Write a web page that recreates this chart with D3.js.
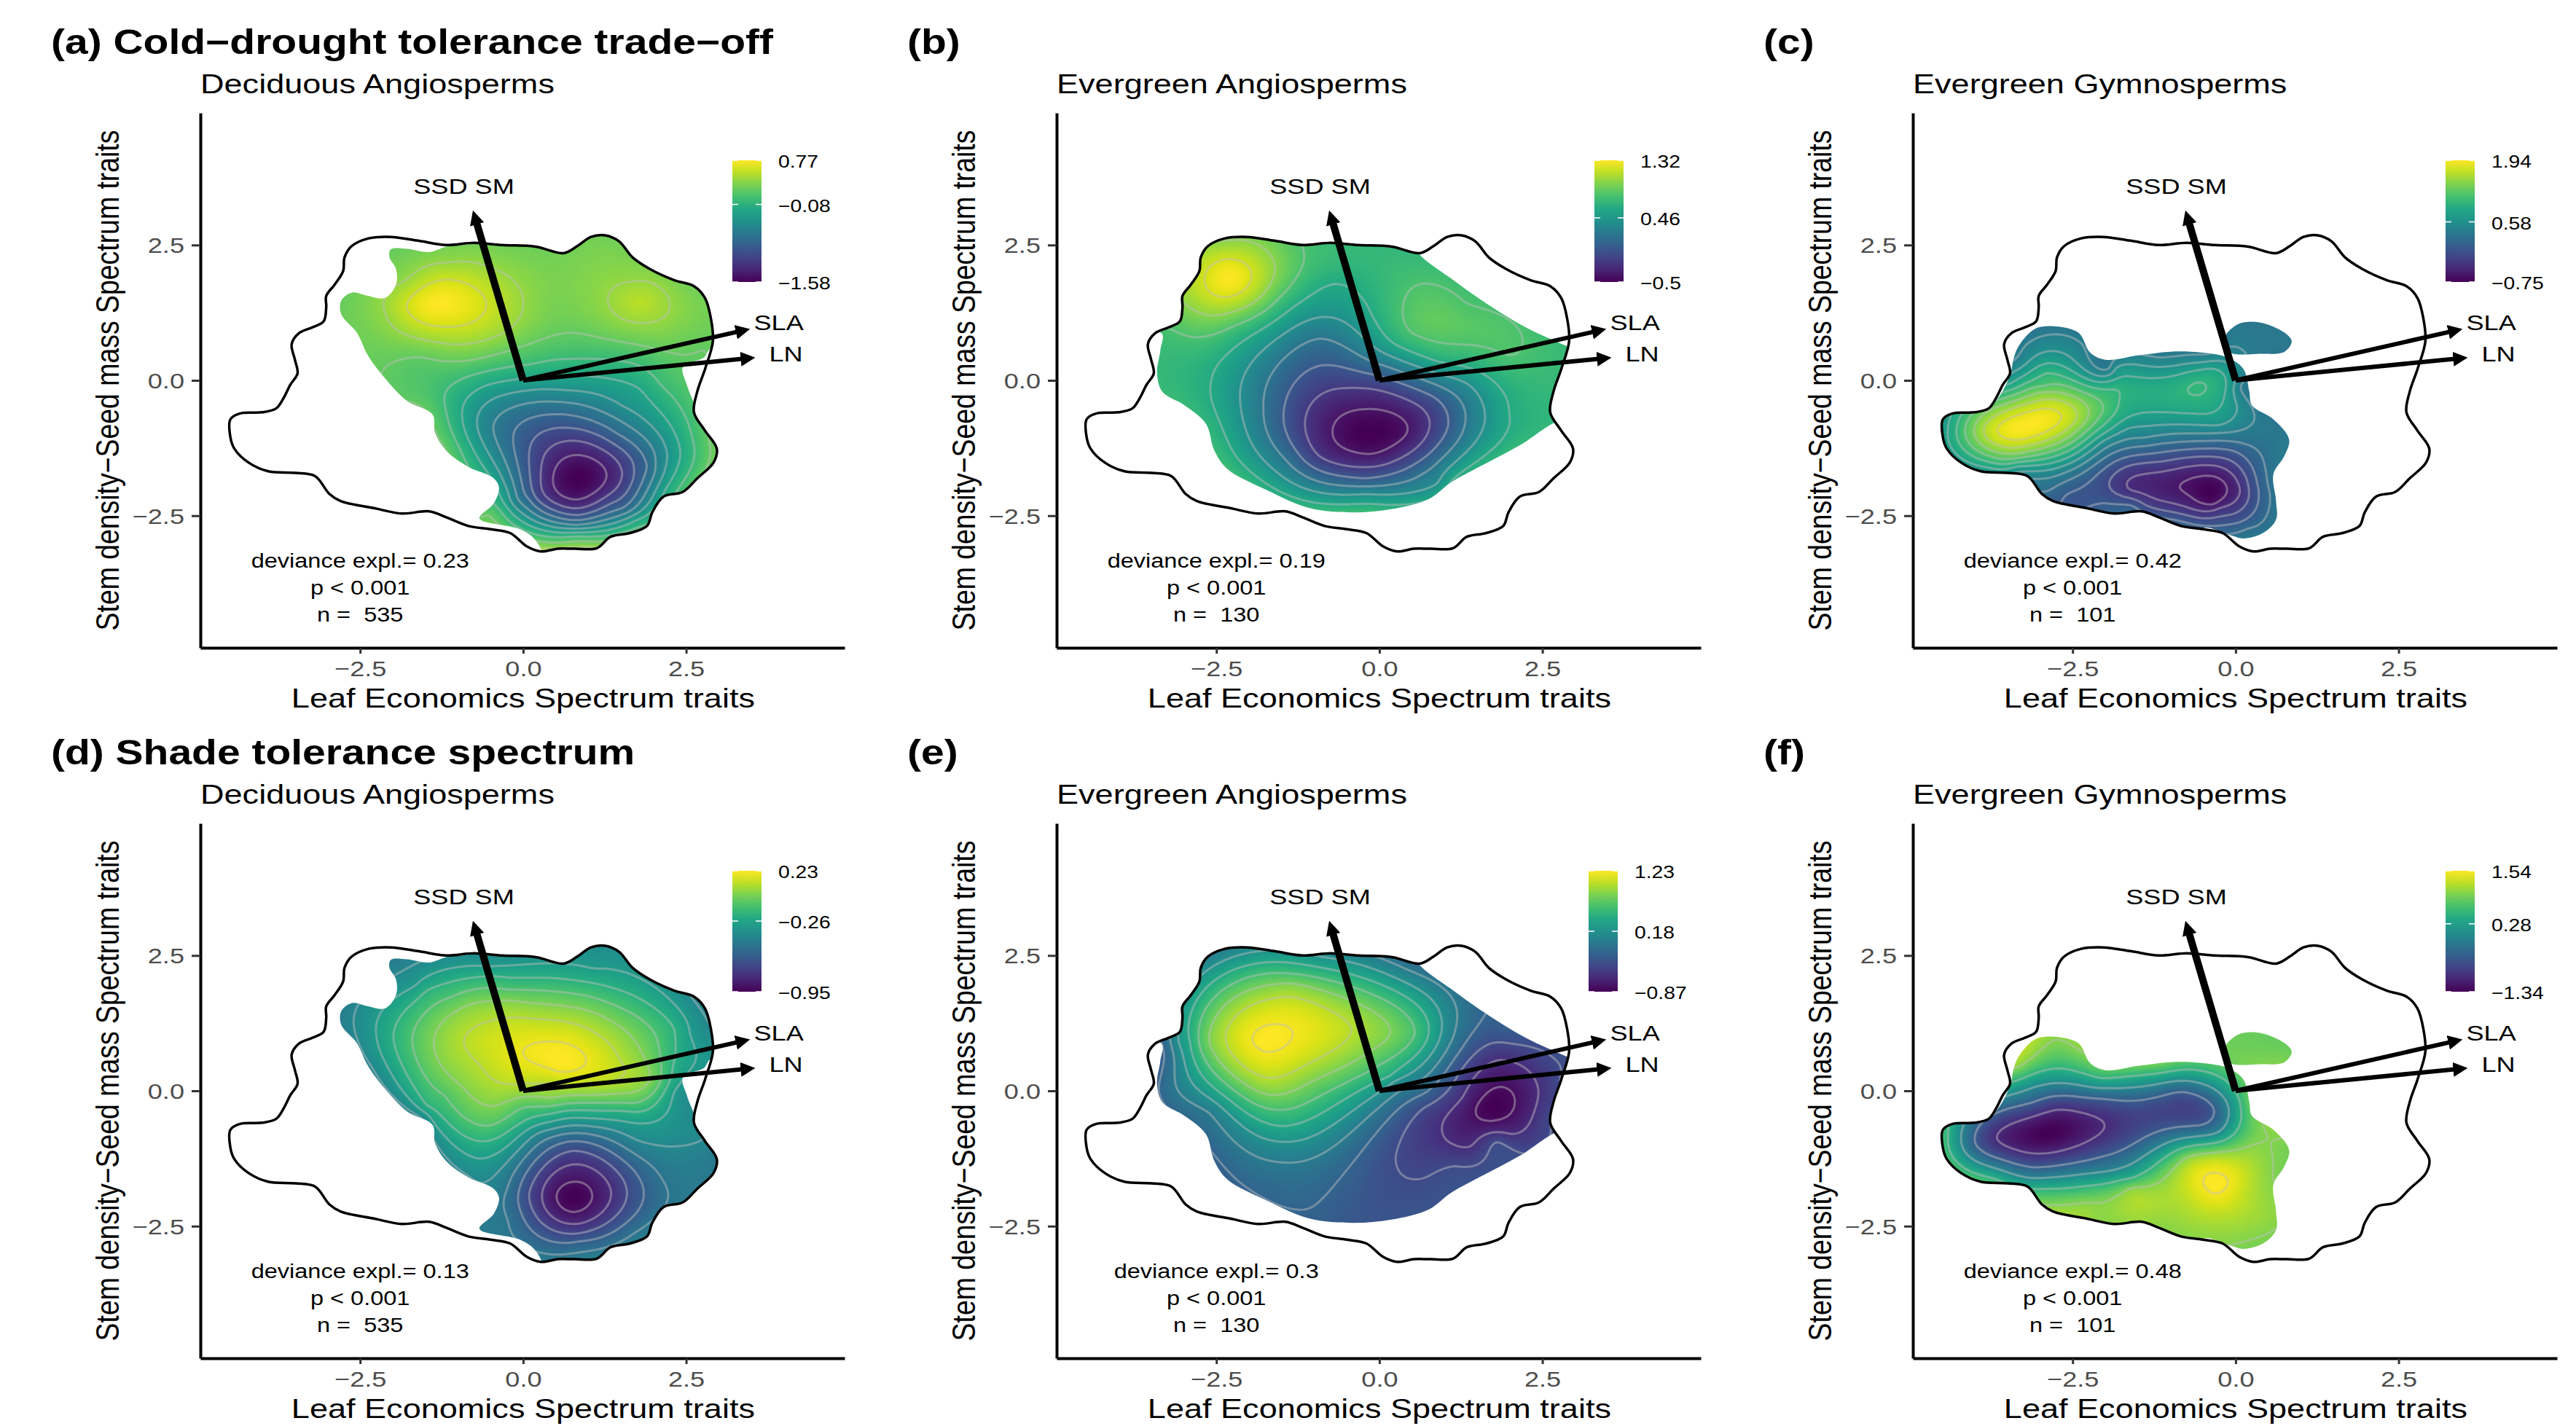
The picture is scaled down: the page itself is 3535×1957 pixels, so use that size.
<!DOCTYPE html>
<html>
<head>
<meta http-equiv="Content-Type" content="text/html;charset=utf-8">
<title>Trait space response surfaces</title>
<script src="https://d3js.org/d3.v7.min.js"></script>
<style>
  html, body { margin: 0; background: #fff; }
  svg { display: block; }
  text { font-family: "Liberation Sans", Arial, sans-serif; fill: #000; white-space: pre; }
</style>
</head>
<body>
<svg width="3535" height="1957"></svg>
<script>
// values
const headings = ['(a) Cold\u2212drought tolerance trade\u2212off', '(b)', '(c)', '(d) Shade tolerance spectrum', '(e)', '(f)'];
const groups = ['Deciduous Angiosperms', 'Evergreen Angiosperms', 'Evergreen Gymnosperms',
                'Deciduous Angiosperms', 'Evergreen Angiosperms', 'Evergreen Gymnosperms'];
const deviance = ['0.23', '0.19', '0.42', '0.13', '0.3', '0.48'];
const sampleSize = ['535', '130', '101', '535', '130', '101'];
const legendMin = [-1.58, -0.5, -0.75, -0.95, -0.87, -1.34];
const legendMid = [-0.08, 0.46, 0.58, -0.26, 0.18, 0.28];
const legendMax = [0.77, 1.32, 1.94, 0.23, 1.23, 1.54];
const contourFrom = [-1.4, -0.4, -0.6, -0.9, -0.8, -1];
const contourStep = [0.2, 0.2, 0.2, 0.1, 0.2, 0.5];
const axisTicks = [-2.5, 0, 2.5];

// trait loadings
const loadings = [
  {name: 'SSD SM', x: -0.77, y: 3.14, lx: -0.91, ly: 3.44, w: 10},
  {name: 'SLA', x: 3.48, y: 0.95, lx: 3.92, ly: 0.93, w: 6},
  {name: 'LN', x: 3.56, y: 0.42, lx: 4.03, ly: 0.35, w: 6}
];

// outline of the whole trait space
const spaceOutline = [[-4.49,-0.72],[-4.34,-0.61],[-4,-0.59],[-3.79,-0.52],[-3.68,-0.34],[-3.57,-0.08],[-3.46,0.13],[-3.5,0.38],[-3.55,0.67],[-3.44,0.87],[-3.23,0.98],[-3.06,1.09],[-3.02,1.35],[-3.02,1.56],[-2.89,1.77],[-2.76,2.02],[-2.74,2.27],[-2.63,2.48],[-2.38,2.62],[-2.03,2.65],[-1.61,2.58],[-1.18,2.5],[-0.75,2.54],[-0.32,2.5],[0.19,2.47],[0.62,2.35],[0.83,2.48],[1.04,2.65],[1.26,2.68],[1.47,2.57],[1.68,2.27],[1.94,2.06],[2.32,1.85],[2.62,1.74],[2.79,1.52],[2.88,1.14],[2.91,0.72],[2.79,0.21],[2.67,-0.21],[2.62,-0.59],[2.79,-0.93],[2.97,-1.26],[2.92,-1.52],[2.67,-1.81],[2.45,-2.06],[2.15,-2.15],[1.98,-2.44],[1.9,-2.69],[1.64,-2.82],[1.34,-2.89],[1.13,-3.1],[0.79,-3.11],[0.53,-3.11],[0.27,-3.16],[0.06,-3.07],[-0.2,-2.82],[-0.5,-2.75],[-0.84,-2.69],[-1.18,-2.53],[-1.44,-2.42],[-1.86,-2.46],[-2.29,-2.36],[-2.8,-2.23],[-2.97,-2.1],[-3.19,-1.77],[-3.49,-1.71],[-3.91,-1.68],[-4.21,-1.52],[-4.43,-1.26],[-4.49,-1.05]];

// area covered by each plant group, cut against the outline above
const rangeDeciduous = [[[-2.05,2.27],[-2.03,2.42],[-1.78,2.43],[-1.44,2.37],[-1.18,2.47],[-0.75,2.57],[-0.75,3],[3.5,3],[3.5,0.55],[2.88,0.59],[2.77,0.42],[2.45,0.25],[2.51,-0.08],[2.62,-0.42],[2.66,-0.55],[3.5,-0.55],[3.5,-3.5],[0.35,-3.5],[0.27,-3.11],[0.15,-2.9],[-0.07,-2.74],[-0.67,-2.55],[-0.45,-2.27],[-0.37,-1.98],[-0.45,-1.81],[-0.84,-1.6],[-1.18,-1.3],[-1.35,-0.97],[-1.39,-0.63],[-1.78,-0.38],[-2.12,0.04],[-2.38,0.46],[-2.55,0.88],[-2.79,1.22],[-2.79,1.47],[-2.63,1.62],[-2.38,1.56],[-2.12,1.52],[-1.95,1.77],[-1.95,2.06]]];
const rangeEvergreen = [[[-4,3],[0.3,3],[0.59,2.36],[1.09,1.89],[1.68,1.39],[2.26,0.97],[2.88,0.63],[3.5,0.3],[3.5,-0.5],[2.72,-0.76],[2.18,-1.18],[1.59,-1.56],[1.09,-1.89],[0.76,-2.19],[0.18,-2.38],[-0.41,-2.44],[-1.07,-2.36],[-1.74,-2.02],[-2.33,-1.64],[-2.53,-1.3],[-2.66,-0.8],[-2.99,-0.46],[-3.33,-0.21],[-3.41,0.13],[-3.36,0.55],[-3.34,0.87],[-4,0.9]]];
const rangeGymnosperm = [
  [[-5,-0.65],[-4.16,-0.59],[-3.83,-0.55],[-3.62,-0.29],[-3.45,0.13],[-3.41,0.38],[-3.33,0.63],[-3.08,0.95],[-2.79,1],[-2.41,0.88],[-2.23,0.51],[-2,0.38],[-1.5,0.46],[-1,0.53],[-0.5,0.51],[-0.12,0.42],[0.12,0.21],[0.21,-0.21],[0.25,-0.46],[0.58,-0.72],[0.82,-1.09],[0.75,-1.39],[0.58,-1.73],[0.62,-2.23],[0.62,-2.57],[0.42,-2.82],[0.12,-2.92],[-0.08,-2.86],[-0.5,-2.74],[-0.5,-3.6],[-5,-3.6]],
  [[-0.17,0.8],[0.04,1.04],[0.37,1.07],[0.75,0.88],[0.86,0.72],[0.75,0.53],[0.37,0.49],[-0.08,0.51],[-0.17,0.67]]
];

// surface readings per panel: [leaf axis, stem axis, response]
const readingsA = [[.46,-1.77,-1.4],[.84,-1.38,-1.4],[1.28,-1.77,-1.4],[.84,-2.2,-1.4],[.27,-1.77,-1.2],[.84,-1.12,-1.2],[1.52,-1.73,-1.2],[.84,-2.36,-1.2],[.09,-1.55,-1],[.73,-.88,-1],[1.7,-1.64,-1],[1.35,-2.27,-1],[.84,-2.49,-1],[.2,-2.18,-1],[-.15,-1.01,-.8],[.64,-.63,-.8],[1.48,-1.01,-.8],[1.9,-1.59,-.8],[1.52,-2.36,-.8],[.84,-2.58,-.8],[.11,-2.22,-.8],[-.46,-.88,-.6],[.2,-.4,-.6],[1.48,-.74,-.6],[2.03,-1.55,-.6],[1.66,-2.4,-.6],[.84,-2.67,-.6],[-.07,-2.22,-.6],[-.71,-.79,-.4],[-.24,-.25,-.4],[.64,-.18,-.4],[1.52,-.47,-.4],[2.21,-1.42,-.4],[2.01,-2.09,-.4],[1.61,-2.54,-.4],[.84,-2.74,-.4],[-.24,-2.04,-.4],[-.93,-.52,-.2],[-.6,-.11,-.2],[.29,.07,-.2],[1.08,.07,-.2],[1.79,-.16,-.2],[2.41,-1.33,-.2],[2.19,-2,-.2],[1.74,-2.58,-.2],[.84,-2.81,-.2],[-.51,-1.77,-.2],[-1.21,-.34,0],[-1.08,-.07,0],[.07,.29,0],[.86,.4,0],[1.74,.29,0],[2.1,-.07,0],[2.63,-1.33,0],[2.41,-1.95,0],[1.88,-2.67,0],[.84,-2.88,0],[-.86,-1.55,0],[-2.16,.16,.2],[-1.57,.43,.2],[-.77,.38,.2],[-.07,.61,.2],[.73,.88,.2],[2.45,.47,.2],[-2,-.34,.2],[-1.48,-.58,.2],[-1.17,-1.33,.2],[-.51,-2.49,.2],[2.85,-1.1,.2],[-2.1,1.19,.4],[-1.13,.67,.4],[-.24,.92,.4],[0,1.5,.4],[-.51,2.09,.4],[-1.13,2.18,.4],[-1.79,1.86,.4],[-1.79,1.37,.6],[-1.21,1.86,.6],[-.57,1.46,.6],[-1.21,.99,.6],[-1.37,1.44,.77],[1.3,1.5,.4],[1.66,1.82,.4],[2.25,1.42,.4],[1.83,1.06,.4],[1.79,1.46,.52],[.42,1.46,.3],[.42,2.27,.27],[1.08,2.63,.27],[2.41,1.91,.27],[2.76,1.15,.28],[2.76,.56,.2],[-2.67,1.46,.25],[-2.01,2.27,.25],[-.91,2.45,.3],[-2.45,.7,.25],[-.64,-2.54,.2],[2.94,-1.33,.25],[.85,-1.8,-1.58]];
const readingsB = [[-.72,-.93,-.4],[-.21,-.53,-.4],[.43,-.95,-.4],[-.12,-1.36,-.4],[-.12,-.95,-.5],[-1.14,-.86,-.2],[-.48,-.14,-.2],[.45,-.37,-.2],[.76,-.91,-.2],[.23,-1.49,-.2],[-.21,-1.6,-.2],[-.92,-1.4,-.2],[-1.47,-.73,0],[-.74,.28,0],[.01,.08,0],[.85,-.32,0],[1.05,-.86,0],[-.21,-1.81,0],[-1.27,-1.31,0],[-1.78,-.5,.2],[-.92,.77,.2],[-.12,.35,.2],[.98,-.14,.2],[1.31,-.82,.2],[.67,-1.72,.2],[-.21,-1.96,.2],[-1.45,-1.45,.2],[-2.13,-.14,.4],[-.81,1.17,.4],[-.21,.75,.4],[.67,.22,.4],[1.33,-.05,.4],[1.62,-.73,.4],[.89,-1.9,.4],[-.21,-2.1,.4],[-1.76,-1.49,.4],[-2.58,-.01,.6],[-.7,1.78,.6],[-.21,1.43,.6],[.19,.71,.6],[.89,.35,.6],[1.99,-.59,.6],[1.11,-1.85,.6],[-.21,-2.28,.6],[-2.2,-1.4,.6],[.36,1.34,.8],[.6,1.77,.8],[1.33,1.43,.8],[2.19,.66,.8],[1.99,.46,.8],[.89,.71,.8],[.49,.89,.8],[1.02,1.11,.88],[-3.17,.93,.8],[-2.86,.8,.8],[-2.2,1.02,.8],[-1.54,1.52,.8],[-1.18,2.46,.8],[-2.95,1.38,1],[-2.5,1.2,1],[-1.84,1.52,1],[-1.6,2.06,1],[-1.8,2.46,1],[-2.42,2.57,1],[-2.68,1.9,1.2],[-2.33,2.24,1.2],[-1.96,1.92,1.2],[-2.33,1.54,1.2],[-2.31,1.88,1.32],[-3.34,.4,.72],[-3.3,-.1,.72],[-2.64,-.95,.72],[-2.2,-1.67,.7],[-.65,-2.39,.7],[1.11,-1.94,.65],[2.57,-.82,.7],[2.83,.4,.72],[.67,2.19,.73],[-.65,2.51,.73],[1.55,1.34,.8],[-.65,2.1,.7]];
const readingsC = [[-3.18,-.81,1.94],[-3.66,-.92,1.8],[-2.91,-.52,1.8],[-2.67,-.7,1.8],[-3.35,-1.1,1.8],[-3.86,-.97,1.6],[-3.04,-.38,1.6],[-2.43,-.65,1.6],[-3.35,-1.24,1.6],[-4.01,-.97,1.4],[-3,-.22,1.4],[-2.25,-.56,1.4],[-3.35,-1.35,1.4],[-4.15,-.97,1.2],[-2.96,-.11,1.2],[-2.03,-.52,1.2],[-3.35,-1.44,1.2],[-4.28,-.88,1],[-2.91,.13,1],[-1.85,-.16,1],[-1.79,-.34,1],[-2.47,-1.24,1],[-3.53,-1.55,1],[-.73,-.16,1],[-.6,-.04,1],[-.46,-.16,1],[-.6,-.27,1],[-.6,-.16,1.03],[-1.24,-.2,.92],[-4.41,-.88,.8],[-3.35,-1.59,.8],[-1.94,-.92,.8],[-1.59,-.65,.8],[-.71,-.61,.8],[-.26,-.52,.8],[-.15,-.16,.8],[-.35,.22,.8],[-1.59,.07,.8],[-2.78,.31,.8],[-3.48,-.07,.8],[-3.22,-1.68,.6],[-2.03,-1.12,.6],[-1.63,-.88,.6],[-.26,-.83,.6],[.02,-.47,.6],[0,-.02,.6],[-.26,.36,.6],[-1.85,.22,.6],[-2.78,.54,.6],[-3.4,.16,.6],[-3.04,-1.82,.4],[-2.03,-1.28,.4],[-1.41,-1.06,.4],[-.26,-.97,.4],[.29,-.7,.4],[.07,-.11,.4],[-.44,.48,.4],[-1.94,.22,.38],[-2.34,.65,.4],[-2.78,.85,.4],[-3.22,.65,.4],[-3.35,.34,.45],[-2.87,-2.04,.2],[-1.15,-1.17,.2],[.13,-1.17,.2],[.49,-1.91,.2],[.18,-2.74,.2],[-2.6,-2.11,0],[-1.15,-1.33,0],[-.04,-1.3,0],[.35,-2,0],[.09,-2.61,0],[-1.59,-2.31,0],[-2.03,-2.27,0],[-1.92,-2,-.2],[-1.15,-1.5,-.2],[-.26,-1.42,-.2],[.2,-2,-.2],[-.04,-2.47,-.2],[-1.37,-2.31,-.2],[-1.63,-2.02,-.4],[-.93,-1.64,-.4],[-.26,-1.59,-.4],[.07,-2.04,-.4],[-.26,-2.36,-.4],[-1.15,-2.22,-.4],[-.86,-1.95,-.6],[-.53,-1.77,-.6],[-.13,-2.04,-.6],[-.33,-2.29,-.6],[-.71,-2.13,-.6],[-.4,-2.02,-.75],[-3.79,-1.64,.75],[.75,-1.1,.33],[.57,-1.59,.3],[.6,-2.36,.28],[.4,-2.81,.3],[.31,.79,.33],[-.09,.92,.33],[.79,.7,.33],[-2.03,-2.45,.1],[-.93,-2.72,.2],[-2.78,.97,.33],[-1.15,.49,.33]];
const readingsD = [[0,.68,.2],[.38,.91,.2],[.95,.64,.2],[.55,.35,.2],[.51,.64,.23],[-.91,.91,.1],[-.51,1.29,.1],[.2,1.33,.1],[1.08,1.09,.1],[1.48,.59,.1],[1.26,.14,.1],[.42,.14,.1],[-.15,.12,.1],[-.68,.5,.1],[-1.37,.91,0],[-.86,1.58,0],[-.24,1.67,0],[1.08,1.45,0],[1.81,.73,0],[1.94,.19,0],[1.08,-.08,0],[.42,-.13,0],[-.38,-.26,0],[-1.13,.28,0],[-1.7,.91,-.1],[-1.13,1.72,-.1],[-.24,1.87,-.1],[1.3,1.63,-.1],[2.08,.82,-.1],[2.08,.1,-.1],[1.74,-.22,-.1],[1.08,-.22,-.1],[0,-.31,-.1],[-.51,-.64,-.1],[-1.21,-.08,-.1],[-1.99,1,-.2],[-1.48,1.85,-.2],[-.46,2.12,-.2],[1.08,1.99,-.2],[2.32,1.13,-.2],[2.3,.46,-.2],[2.05,-.22,-.2],[1.52,-.37,-.2],[.64,-.37,-.2],[0,-.57,-.2],[-.6,-.93,-.2],[-1.48,-.26,-.2],[-2.25,1,-.3],[-1.66,1.94,-.3],[-.46,2.3,-.3],[1.08,2.26,-.3],[2.56,1.04,-.3],[2.32,-.01,-.3],[2.23,-.35,-.3],[1.83,-.6,-.3],[1.08,-.51,-.3],[.42,-.57,-.3],[-.24,-1.02,-.3],[-.68,-1.25,-.3],[-1.35,-.62,-.3],[-.62,-1.7,-.4],[.2,-.8,-.4],[.86,-.64,-.4],[1.74,-.91,-.4],[2.41,-1.02,-.4],[2.76,-.89,-.4],[-.24,-1.79,-.5],[.2,-1.02,-.5],[.77,-.78,-.5],[1.52,-1.02,-.5],[2.14,-1.65,-.5],[1.74,-2.6,-.5],[-.24,-2.37,-.5],[-.07,-1.88,-.6],[.77,-.93,-.6],[1.83,-1.74,-.6],[.86,-2.78,-.6],[.09,-1.92,-.7],[.77,-1.11,-.7],[1.59,-1.83,-.7],[.82,-2.64,-.7],[.29,-1.95,-.8],[.77,-1.36,-.8],[1.35,-1.92,-.8],[.77,-2.46,-.8],[.51,-1.95,-.9],[.77,-1.68,-.9],[1.06,-1.95,-.9],[.77,-2.24,-.9],[.77,-1.95,-.95],[-2.8,1.4,-.45],[-2,2.39,-.45],[-2.36,.41,-.42],[-1.57,-.53,-.42],[-.91,-1.61,-.42],[-.68,-2.51,-.47],[2.94,-1.25,-.47],[2.19,-2.1,-.5],[1.21,2.66,-.37],[2.8,.55,-.33],[2.54,1.67,-.38],[2.5,-.26,-.38]];
const readingsE = [[-1.95,.93,1.2],[-1.55,1.23,1.2],[-1.33,1.08,1.2],[-1.73,.72,1.2],[-1.63,.98,1.23],[-2.35,.9,1],[-1.33,1.73,1],[-.43,1.13,1],[-1.09,.5,1],[-1.75,.25,1],[-2.61,.9,.8],[-1.33,1.98,.8],[.16,1.04,.8],[-1.09,.14,.8],[-1.75,-.06,.8],[-2.77,.9,.6],[-1.33,2.16,.6],[.54,1.04,.6],[.03,.5,.6],[-1.6,-.35,.6],[-2.9,.9,.4],[-1.33,2.36,.4],[.76,1.13,.4],[.16,.27,.4],[-1.51,-.65,.4],[-3.08,.9,.2],[-2.17,2.5,.2],[-.9,2.48,.2],[.96,1.17,.2],[.23,.18,.2],[-1.51,-.94,.2],[-3.2,.9,0],[1.18,1.22,0],[.41,.05,0],[-1.51,-1.32,0],[-2.62,-.4,0],[-3.3,.68,-.2],[1.6,1.37,-.2],[.7,-.04,-.2],[-.54,-1.52,-.2],[-1.07,-2.17,-.2],[-2.17,-1.66,-.2],[.5,2.34,-.1],[.25,-1.21,-.4],[.69,-1.61,-.4],[1.14,-1.39,-.4],[1.8,-.94,-.4],[2.63,-.53,-.4],[2.77,.23,-.4],[1.84,.9,-.4],[1.27,.41,-.4],[.69,-.31,-.4],[.96,-.71,-.6],[1.4,-1.03,-.6],[2.02,-.8,-.6],[2.44,0,-.6],[1.84,.57,-.6],[1.27,-.13,-.6],[1.49,-.29,-.8],[1.84,.07,-.8],[2.08,-.18,-.8],[1.71,-.56,-.8],[1.8,-.24,-.87],[-.63,-2.42,-.28],[.69,-2.24,-.32],[2.02,-1.57,-.36],[2.68,-.76,-.38],[2,1.04,-.3],[2.81,.77,-.33],[-3.28,0,-.12],[-2.84,-.58,-.15],[2.86,.41,-.38]];
const readingsF = [[-3.66,-.89,-1],[-2.73,-.35,-1],[-2.01,-.62,-1],[-3,-1.16,-1],[-2.91,-.8,-1.34],[-3.99,-.98,-.5],[-3.13,-.22,-.5],[-2.03,-.15,-.5],[-.84,-.02,-.5],[-.33,-.35,-.5],[-.49,-.62,-.5],[-2.03,-1.21,-.5],[-3.13,-1.41,-.5],[-1.3,-.4,-.75],[-4.21,-.94,0],[-3.13,.05,0],[-1.94,.05,0],[-.71,.18,0],[-.11,-.31,0],[-.26,-.76,0],[-1.94,-1.48,0],[-3.13,-1.61,0],[-4.41,-.85,.5],[-3.13,.3,.5],[-2.03,.23,.5],[-.49,.36,.5],[.07,-.22,.5],[0,-.76,.5],[-1.59,-1.61,.5],[-2.91,-1.81,.5],[-3.31,.45,1],[-2.78,.93,1],[-2.23,.63,1],[.49,-.85,1],[.18,-1.03,1],[-.71,-1.21,1],[-1.59,-1.79,1],[-2.29,-2.06,1],[-2.82,-2.11,1],[-.49,-1.73,1.5],[-.26,-1.52,1.5],[-.11,-1.7,1.5],[-.33,-1.9,1.5],[-.29,-1.7,1.54],[-.79,-1.93,1.25],[.18,-1.84,1.25],[-.26,-2.29,1.25],[-.31,-1.25,1.25],[-1.15,-2.15,1.15],[.75,-1.07,.95],[.57,-1.61,1],[.62,-2.29,1.05],[.31,-2.87,.95],[-1.15,-2.56,1.03],[-2.03,-2.42,1.03],[.31,.77,.9],[-.09,.9,.9],[.79,.72,.9],[-1.15,.5,.9],[-.04,.5,.9],[-2.03,.39,.8],[.18,-.22,.8],[.26,-.58,.85],[-2.78,.99,1.02],[-4.48,-.85,.65],[-3.7,-1.6,.45]];
const allReadings = [readingsA, readingsB, readingsC, readingsD, readingsE, readingsF];
const allRanges = [rangeDeciduous, rangeEvergreen, rangeGymnosperm, rangeDeciduous, rangeEvergreen, rangeGymnosperm];

// layout of the figure
const squeeze = 1.205;   // the figure was stretched sideways
const zeroX = [718, 1893, 3068];
const rowTop = [155, 1130];
const rowBottom = [889, 1864];
const headingX = [70, 1245, 2420];
const headingY = [74, 1049];
const subtitleY = [128, 1103];
const legendX = [1005, 2188, 3356, 1005, 2180, 3356];
const legendTop = [220, 1195];
const legendBottom = [387, 1361];
const gridStep = 4;

const svg = d3.select('svg');

function placeText(sel, x, y, rotated) {
  return sel.attr('transform', `translate(${x},${y}) scale(${squeeze},1)` + (rotated ? ' rotate(-90)' : ''));
}

function addText(parent, str, x, y, size, opts) {
  opts = opts || {};
  const t = parent.append('text').text(str)
    .attr('font-size', size)
    .attr('text-anchor', opts.anchor || 'start')
    .attr('font-weight', opts.bold ? 'bold' : null);
  if (opts.fill) t.style('fill', opts.fill);
  return placeText(t, x, y, opts.rotated);
}

// thin plate spline through the readings of one panel
function fitSurface(points) {
  const n = points.length, m = n + 3;
  const A = d3.range(m).map(() => new Float64Array(m + 1));
  const kernel = (r2) => r2 > 0 ? 0.5 * r2 * Math.log(r2) : 0;
  points.forEach((p, i) => {
    points.forEach((q, j) => {
      A[i][j] = kernel((p[0] - q[0]) ** 2 + (p[1] - q[1]) ** 2) + (i === j ? 0.003 : 0);
    });
    A[i][n] = A[n][i] = 1;
    A[i][n + 1] = A[n + 1][i] = p[0];
    A[i][n + 2] = A[n + 2][i] = p[1];
    A[i][m] = p[2];
  });
  for (let c = 0; c < m; c++) {
    let best = c;
    for (let r = c + 1; r < m; r++) if (Math.abs(A[r][c]) > Math.abs(A[best][c])) best = r;
    [A[c], A[best]] = [A[best], A[c]];
    for (let r = 0; r < m; r++) {
      if (r === c) continue;
      const f = A[r][c] / A[c][c];
      if (f !== 0) for (let k = c; k <= m; k++) A[r][k] -= f * A[c][k];
    }
  }
  const w = d3.range(m).map(i => A[i][m] / A[i][i]);
  return (x, y) => {
    let v = w[n] + w[n + 1] * x + w[n + 2] * y;
    for (let i = 0; i < n; i++) {
      v += w[i] * kernel((x - points[i][0]) ** 2 + (y - points[i][1]) ** 2);
    }
    return v;
  };
}

const defs = svg.append('defs');
defs.append('marker').attr('id', 'head')
  .attr('markerUnits', 'userSpaceOnUse')
  .attr('markerWidth', 22).attr('markerHeight', 22)
  .attr('refX', 2).attr('refY', 11)
  .attr('orient', 'auto')
  .append('path').attr('d', 'M0,1L20,11L0,21Z').attr('fill', '#000');

const viridisStops = d3.range(0, 1.001, 0.1);
const grad = defs.append('linearGradient').attr('id', 'viridis')
  .attr('x1', 0).attr('y1', 1).attr('x2', 0).attr('y2', 0);
viridisStops.forEach(t => grad.append('stop').attr('offset', t).attr('stop-color', d3.interpolateViridis(t)));

d3.range(6).forEach(i => {
  const col = i % 3, row = Math.floor(i / 3);
  const x = d3.scaleLinear().domain([-4.95, 4.93]).range([zeroX[col] - 443, zeroX[col] + 441]);
  const y = d3.scaleLinear().domain([-4.94, 4.94]).range([rowBottom[row], rowTop[row]]);
  const g = svg.append('g');

  addText(g, headings[i], headingX[col], headingY[row], 47.3, {bold: true});
  addText(g, groups[i], x.range()[0], subtitleY[row], 37.4);

  // response surface
  const color = d3.scaleSequential(d3.interpolateViridis).domain([legendMin[i], legendMax[i]]);
  const surface = fitSurface(allReadings[i]);
  const gx0 = x(-4.8), gy0 = y(3), gx1 = x(3.4), gy1 = y(-3.5);
  const nx = Math.ceil((gx1 - gx0) / gridStep), ny = Math.ceil((gy1 - gy0) / gridStep);
  const values = new Float64Array(nx * ny);
  const canvas = document.createElement('canvas');
  canvas.width = nx; canvas.height = ny;
  const ctx = canvas.getContext('2d');
  for (let r = 0; r < ny; r++) {
    for (let c = 0; c < nx; c++) {
      const v = surface(x.invert(gx0 + (c + 0.5) * gridStep), y.invert(gy0 + (r + 0.5) * gridStep));
      values[r * nx + c] = v;
      ctx.fillStyle = color(Math.max(legendMin[i], Math.min(legendMax[i], v)));
      ctx.fillRect(c, r, 1, 1);
    }
  }

  const smooth = d3.line().x(d => x(d[0])).y(d => y(d[1])).curve(d3.curveCatmullRomClosed.alpha(0.5));

  defs.append('clipPath').attr('id', 'outline' + i).append('path').attr('d', smooth(spaceOutline));
  const rangeClip = defs.append('clipPath').attr('id', 'range' + i);
  allRanges[i].forEach(poly => rangeClip.append('path').attr('d', smooth(poly)));

  const clipped = g.append('g').attr('clip-path', `url(#outline${i})`)
    .append('g').attr('clip-path', `url(#range${i})`);
  clipped.append('image')
    .attr('x', gx0).attr('y', gy0)
    .attr('width', nx * gridStep).attr('height', ny * gridStep)
    .attr('preserveAspectRatio', 'none')
    .attr('href', canvas.toDataURL());

  const levels = d3.range(contourFrom[i], legendMax[i], contourStep[i]);
  const toPage = d3.geoTransform({point(px, py) { this.stream.point(gx0 + px * gridStep, gy0 + py * gridStep); }});
  const path = d3.geoPath(toPage);
  clipped.selectAll('path.iso')
    .data(d3.contours().size([nx, ny]).thresholds(levels)(Array.from(values)))
    .enter().append('path').attr('class', 'iso')
    .attr('d', path)
    .attr('fill', 'none')
    .attr('stroke', '#bebebe')
    .attr('stroke-opacity', 0.45)
    .attr('stroke-width', 3);

  // outline of trait space
  g.append('path').attr('d', smooth(spaceOutline))
    .attr('fill', 'none').attr('stroke', '#000').attr('stroke-width', 3.5);

  // axes
  const yAxis = g.append('g').attr('transform', `translate(${x.range()[0]},0)`)
    .call(d3.axisLeft(y).tickValues(axisTicks).tickFormat(d3.format('.1f')).tickSize(12).tickSizeOuter(0));
  const xAxis = g.append('g').attr('transform', `translate(0,${rowBottom[row]})`)
    .call(d3.axisBottom(x).tickValues(axisTicks).tickFormat(d3.format('.1f')).tickSize(8).tickSizeOuter(0));
  [yAxis, xAxis].forEach(a => {
    a.select('.domain').attr('stroke', '#000').attr('stroke-width', 4);
    a.selectAll('.tick line').attr('stroke', '#333').attr('stroke-width', 3);
    a.selectAll('.tick text').attr('font-size', 30).attr('font-family', null).style('fill', '#4d4d4d');
  });
  yAxis.selectAll('.tick text').attr('x', null).attr('dy', null).attr('y', 0)
    .attr('text-anchor', 'end').attr('dominant-baseline', 'central')
    .call(s => placeText(s, -22, 0));
  xAxis.selectAll('.tick text').attr('dy', null).attr('y', null)
    .call(s => placeText(s, 0, 39));

  addText(g, 'Leaf Economics Spectrum traits', x(0), rowBottom[row] + 82, 37.4, {anchor: 'middle'});
  addText(g, 'Stem density\u2212Seed mass Spectrum traits', x.range()[0] - 112, y(0), 37.4, {anchor: 'middle', rotated: true});

  // arrows
  loadings.forEach(d => {
    const px = x(d.x), py = y(d.y), ox = x(0), oy = y(0);
    const len = Math.hypot(px - ox, py - oy);
    const k = (len - 18) / len;
    g.append('line')
      .attr('x1', ox).attr('y1', oy)
      .attr('x2', ox + (px - ox) * k).attr('y2', oy + (py - oy) * k)
      .attr('stroke', '#000').attr('stroke-width', d.w)
      .attr('marker-end', 'url(#head)');
    addText(g, d.name, x(d.lx), y(d.ly), 30, {anchor: 'middle'});
  });

  // fit statistics
  addText(g, `deviance expl.= ${deviance[i]}`, x(-2.5), y(-3.46), 27, {anchor: 'middle'});
  addText(g, 'p < 0.001', x(-2.5), y(-3.96), 27, {anchor: 'middle'});
  addText(g, `n =  ${sampleSize[i]}`, x(-2.5), y(-4.45), 27, {anchor: 'middle'});

  // colour legend
  const lx = legendX[i], lw = 40;
  const ly = d3.scaleLinear().domain([legendMin[i], legendMax[i]]).range([legendBottom[row], legendTop[row]]);
  g.append('rect').attr('x', lx).attr('y', ly.range()[1])
    .attr('width', lw).attr('height', ly.range()[0] - ly.range()[1])
    .attr('fill', 'url(#viridis)');
  g.selectAll('path.ltick').data([legendMin[i], legendMid[i], legendMax[i]]).enter()
    .append('path').attr('class', 'ltick')
    .attr('d', d => `M${lx},${ly(d)}h8M${lx + lw - 8},${ly(d)}h8`)
    .attr('stroke', '#fff').attr('stroke-width', 1.5);
  [legendMin[i], legendMid[i], legendMax[i]].forEach(v => {
    const t = addText(g, d3.format('')(v).replace('-', '\u2212'), lx + lw + 23, ly(v) + 2, 23.5);
    t.attr('dominant-baseline', 'central');
  });
});
</script>
</body>
</html>
